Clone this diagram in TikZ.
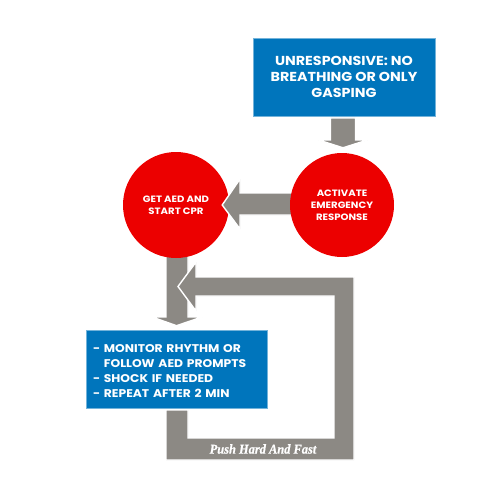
\documentclass[tikz,border=0pt]{standalone}
\usepackage{fontspec}
\setmainfont{Poppins}
\newfontfamily\widefont[FakeStretch=1.1]{Poppins}
\newfontfamily\pushfont[FakeStretch=0.92, FakeBold=0.8]{Liberation Serif}
\usetikzlibrary{calc}
\definecolor{cprblue}{RGB}{0,117,188}
\definecolor{cprred}{RGB}{236,0,0}
\definecolor{cprgray}{RGB}{140,137,132}

\begin{document}
\begin{tikzpicture}[x=1pt, y=-1pt,
        infobox/.style={rectangle, fill=cprblue, draw=cprblue!55, line width=0.6pt,
            text=white, inner sep=0pt},
        stepcircle/.style={circle, fill=cprred, text=white, inner sep=0pt,
            font=\widefont\bfseries\fontsize{9.2}{12}\selectfont, align=center},
        blockarrow/.style={fill=cprgray, draw=white, line width=1.4pt, line join=miter}]
    \useasboundingbox (0, 0) rectangle (500, 500);

    \node[infobox, minimum width=182pt, minimum height=78pt,
        font=\widefont\bfseries\fontsize{13}{16}\selectfont, align=center]
        (start) at (344, 77) {UNRESPONSIVE: NO\\BREATHING OR ONLY\\GASPING};
    \node[infobox, minimum width=181pt, minimum height=78pt]
        (monitor) at (176.5, 369) {};
    \node[text=white, text width=167pt, align=left, inner sep=0pt,
        font=\widefont\bfseries\fontsize{11.2}{15}\selectfont]
        (monitortext) at ($(monitor.center) + (0, 2.5)$)
        {- MONITOR RHYTHM OR\\\phantom{- }FOLLOW AED PROMPTS\\- SHOCK IF NEEDED\\- REPEAT AFTER 2 MIN};

    % down from the aed circle into the box
    \draw[blockarrow] (166, 240) -- (166, 317) -- (152, 317)
        -- ($(monitor.north) + (0, -4)$) -- (202, 317) -- (188, 317) -- (188, 240) -- cycle;
    % the loop back up
    \draw[blockarrow] (166, 410) -- (166, 460) -- (354, 460) -- (354, 277)
        -- (196, 277) -- (196, 262) -- (178, 286.5) -- (196, 311) -- (196, 296)
        -- (334, 296) -- (334, 438) -- (188, 438) -- (188, 410) -- cycle;
    \node[font=\pushfont\bfseries\itshape\fontsize{13.5}{15}\selectfont, text=white]
        (push) at (263, 449) {Push Hard And Fast};

    \node[stepcircle, minimum size=106pt] (aed) at (176, 205) {GET AED AND\\START CPR};
    \draw[blockarrow] (293, 193) -- (240, 193) -- (240, 179)
        -- ($(aed.east) + (-7, 0)$) -- (240, 229) -- (240, 215) -- (293, 215) -- cycle;
    \node[stepcircle, minimum size=104pt] (activate) at (342, 205) {ACTIVATE\\EMERGENCY\\RESPONSE};
    \draw[blockarrow] (330.5, 118) -- (355.5, 118) -- (355.5, 140) -- (367.5, 140)
        -- ($(activate.north) + (1, -5)$) -- (318.5, 140) -- (330.5, 140) -- cycle;
\end{tikzpicture}
\end{document}
